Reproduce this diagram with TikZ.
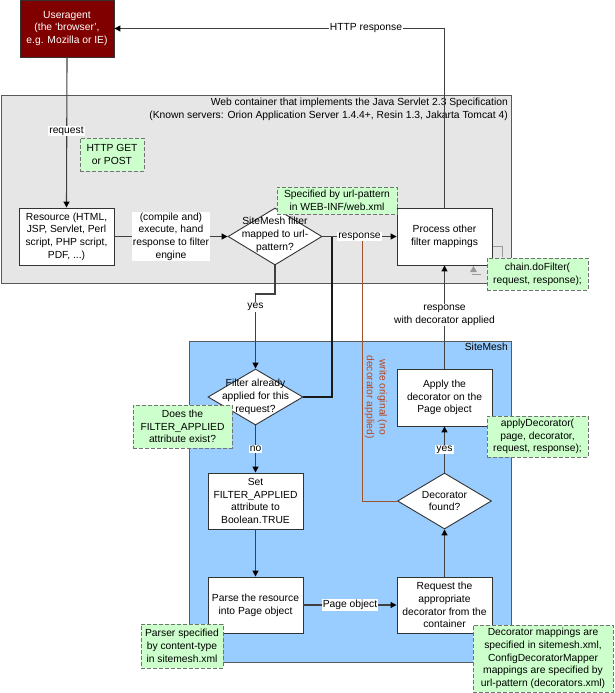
\documentclass[tikz,border=0pt]{standalone}
\usepackage{fontspec}
\setmainfont{Liberation Sans}
\usetikzlibrary{shapes.geometric,arrows.meta}
\definecolor{uared}{HTML}{800000}
\definecolor{webgray}{HTML}{E6E6E6}
\definecolor{smblue}{HTML}{99CCFF}
\definecolor{notegreen}{HTML}{CCFFCC}
\definecolor{edgecol}{HTML}{404040}
\definecolor{brownline}{HTML}{A0522D}
\definecolor{browntext}{HTML}{B8481E}
\newcommand{\dfont}{\fontsize{10.3}{12.7}\selectfont}
\begin{document}
\begin{tikzpicture}[x=1pt,y=-1pt,
  every node/.style={font=\dfont},
  box/.style={draw=black!80, line width=0.9pt, fill=white, minimum width=95pt, minimum height=57pt, align=center, inner sep=1pt},
  dia/.style={draw=black!80, line width=0.9pt, fill=white, diamond, minimum width=94pt, minimum height=57pt, inner sep=0pt},
  dtext/.style={align=center, inner sep=0pt},
  note/.style={draw=black!55, dash pattern=on 4pt off 2pt, line width=1pt, fill=notegreen, align=center, inner sep=1pt},
  lbl/.style={fill=white, inner sep=1pt, align=center},
  conn/.style={draw=edgecol, line width=1.1pt, -{Triangle[length=6pt,width=6pt,color=black]}},
  wire/.style={draw=edgecol, line width=1.1pt},
  region/.style={draw=black!65, line width=0.9pt, inner sep=0pt},
]
\useasboundingbox (0,0) rectangle (614,693);

% containers
\node[region, fill=webgray, minimum width=510pt, minimum height=188pt] (webc) at (256,189) {};
\node[anchor=north east, align=right, inner sep=0pt] (webtitle) at (508,98)
  {Web container that implements the Java Servlet 2.3 Specification\\(Known servers: Orion Application Server 1.4.4+, Resin 1.3, Jakarta Tomcat 4)};
\node[region, fill=smblue, minimum width=322pt, minimum height=321pt] (sm) at (350,501.5) {};
\node[anchor=north east, inner sep=0pt] (smtitle) at (508,343) {SiteMesh};

% nodes
\node[box, fill=uared, text=white, minimum width=94pt] (ua) at (67,28.5) {Useragent\\(the ‘browser’,\\e.g. Mozilla or IE)};
\node[box] (res) at (66.5,236.5) {Resource (HTML,\\JSP, Servlet, Perl\\script, PHP script,\\PDF, ...)};
\node[dia] (d1) at (275,236.5) {};
\node[box] (proc) at (444.5,236.5) {Process other\\filter mappings};
\node[dia, minimum width=95pt, minimum height=56pt] (fa) at (255.5,397) {};
\node[box, minimum height=56pt] (set) at (255.5,501) {Set\\FILTER\_APPLIED\\attribute to\\Boolean.TRUE};
\node[box, minimum height=56pt] (parse) at (255.5,605) {Parse the resource\\into Page object};
\node[box, minimum height=56pt] (req) at (444.5,605) {Request the\\appropriate\\decorator from the\\container};
\node[dia, minimum height=56pt] (dec) at (444.5,501) {};
\node[box] (apply) at (444.5,397.5) {Apply the\\decorator on the\\Page object};

% connectors
\draw[conn] (proc.north) |- (ua.east);
\node[lbl] (httpresp) at (366,28.5) {HTTP response};
\draw[conn] (ua.south) -- (res.north);
\node[lbl] (reqlbl) at (66.5,131) {request};
\draw[conn] (res.east) -- node[lbl] (compile) {(compile and)\\execute, hand\\response to filter\\engine} (d1.west);
\coordinate (brk1) at (275,294);
\draw[conn] (d1.south) -- (brk1) -| (fa.north);
\node[lbl] (yes1) at (255.5,307) {yes};
\coordinate (j1) at (332,236.5);
\draw[wire, draw=black!90] (fa.east) -| (j1);
\coordinate (j2) at (362,236.5);
\draw[draw=brownline, line width=0.9pt] (dec.west) -| (j2);
\draw[conn] (d1.east) -- node[lbl] (resplbl) {response} (proc.west);
\draw[conn] (apply.north) -- (proc.south);
\node[lbl] (withdec) at (444.5,315) {response\\with decorator applied};
\draw[conn] (fa.south) -- node[lbl] (nolbl) {no} (set.north);
\draw[conn] (set.south) -- (parse.north);
\draw[conn] (parse.east) -- node[lbl] (pagelbl) {Page object} (req.west);
\draw[conn] (req.north) -- (dec.south);
\draw[conn] (dec.north) -- node[lbl] (yes2) {yes} (apply.south);

% diamond texts
\node[dtext] (d1t) at (275,235) {SiteMesh filter\\mapped to url-\\pattern?};
\node[dtext] (fat) at (255.5,397) {Filter already\\applied for this\\request?};
\node[dtext] (dect) at (444.5,501) {Decorator\\found?};

% rotated label
\node[text=browntext, rotate=-90, align=center, inner sep=0pt] (wo) at (376,397) {write original (no\\decorator applied)};

% small gray marks
\draw[black!40, line width=1pt] (493,246) -- (502,246) -- (502,257);
\fill[black!40] (470,272) -- (477,272) -- (473.5,266) -- cycle;
\draw[black!40, line width=1pt] (472,274) -- (481,274);

% notes
\node[note, minimum width=64pt, minimum height=33pt] (n1) at (112,154.5) {HTTP GET\\or POST};
\node[note, minimum width=120pt, minimum height=27pt] (n2) at (337,200.5) {Specified by url-pattern\\in WEB-INF/web.xml};
\node[note, minimum width=101pt, minimum height=32pt] (n3) at (537.5,274) {chain.doFilter(\\request, response);};
\node[note, minimum width=99pt, minimum height=43pt] (n4) at (182.5,426.5) {Does the\\FILTER\_APPLIED\\attribute exist?};
\node[note, minimum width=101pt, minimum height=41pt] (n5) at (537.5,436.5) {applyDecorator(\\page, decorator,\\request, response);};
\node[note, minimum width=82pt, minimum height=44pt] (n6) at (182,646) {Parser specified\\by content-type\\in sitemesh.xml};
\node[note, minimum width=140pt, minimum height=67pt] (n7) at (543,658.5) {Decorator mappings are\\specified in sitemesh.xml,\\ConfigDecoratorMapper\\mappings are specified by\\url-pattern (decorators.xml)};
\end{tikzpicture}
\end{document}
